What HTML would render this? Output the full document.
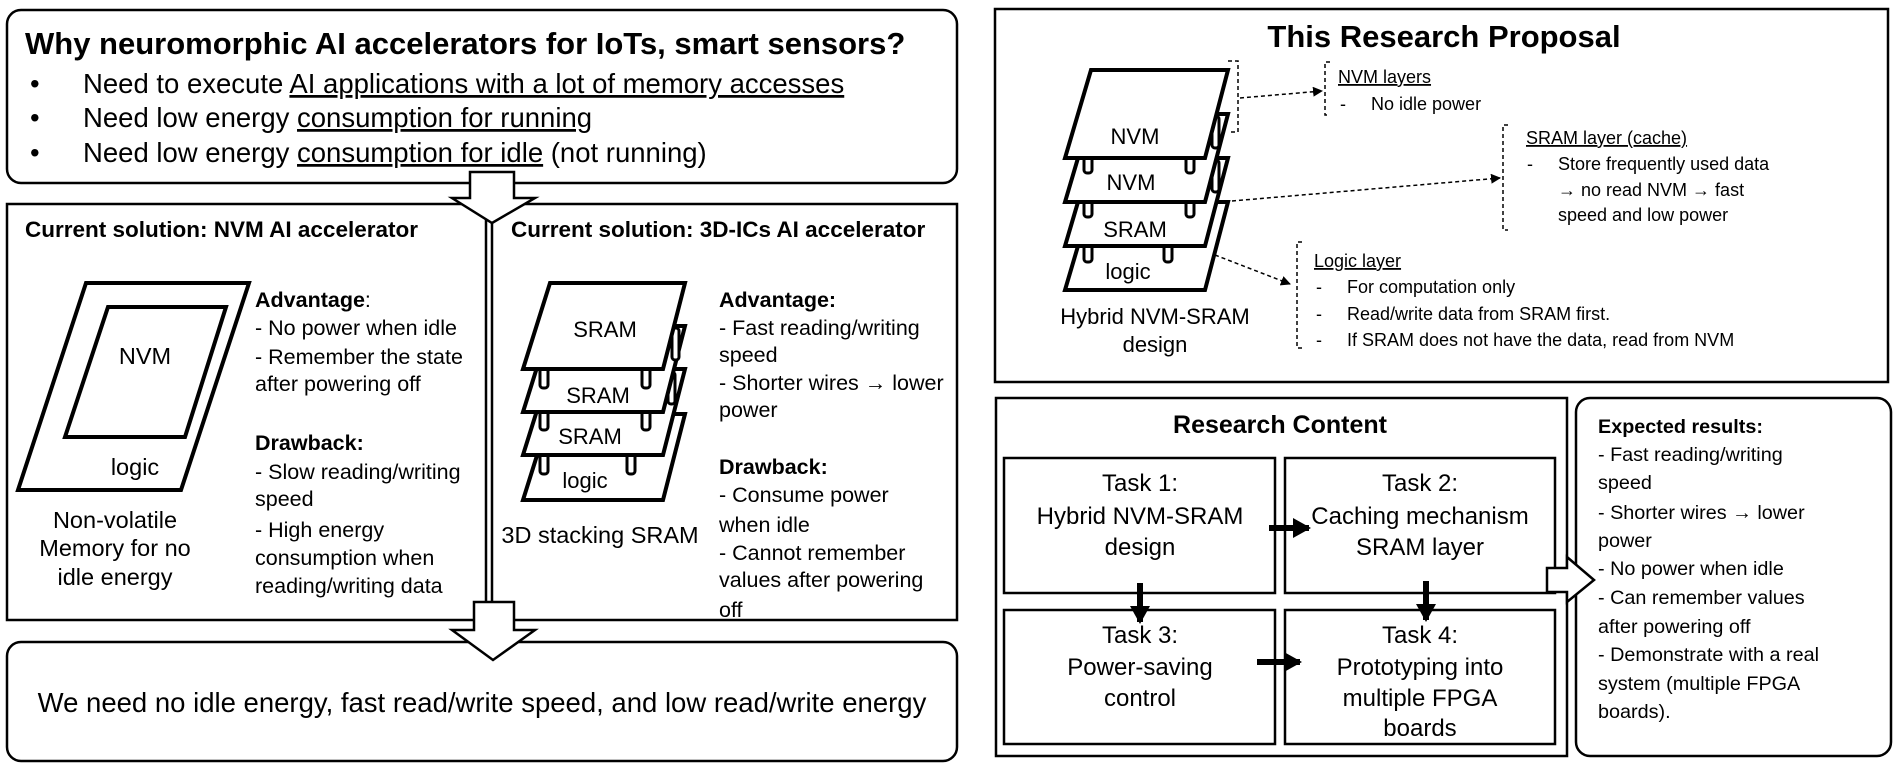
<!DOCTYPE html>
<html><head><meta charset="utf-8"><style>
html,body{margin:0;padding:0;background:#fff}
svg{display:block}
text{font-family:"Liberation Sans",sans-serif;fill:#000}
.b{font-weight:bold}
</style></head><body>
<svg width="1893" height="766" viewBox="0 0 1893 766" xmlns="http://www.w3.org/2000/svg">
<defs>
<marker id="ah" markerWidth="10" markerHeight="10" refX="9" refY="5" orient="auto" markerUnits="userSpaceOnUse"><path d="M0,0 L10,5 L0,10 z" fill="#000"/></marker>
<marker id="ah2" markerWidth="18" markerHeight="20" refX="16" refY="10" orient="auto" markerUnits="userSpaceOnUse"><path d="M0,0 L18,10 L0,20 z" fill="#000"/></marker>
</defs>
<g fill="none" stroke="#000" stroke-width="2.5">
<rect x="7" y="10" width="950" height="173" rx="14"/>
<rect x="7" y="204" width="950" height="416"/>
<rect x="7" y="642" width="950" height="119" rx="14"/>
<line x1="486" y1="215" x2="486" y2="602"/>
<line x1="492" y1="215" x2="492" y2="602"/>
<rect x="995" y="9" width="893" height="373"/>
<rect x="996" y="398" width="571" height="358"/>
<rect x="1576" y="398" width="315" height="358" rx="14"/>
<rect x="1004" y="458" width="271" height="135"/>
<rect x="1285" y="458" width="270" height="135"/>
<rect x="1004" y="610" width="271" height="134"/>
<rect x="1285" y="610" width="270" height="134"/>
</g>
<path d="M470,172 L514,172 L514,198 L535,198 L492,223 L452,198 L470,198 Z" fill="#fff" stroke="#000" stroke-width="2.5"/>
<path d="M474,602 L514,602 L514,630 L535,630 L493,660 L452,630 L474,630 Z" fill="#fff" stroke="#000" stroke-width="2.5"/>
<path d="M1547,568 L1567,568 L1567,557 L1594,580 L1567,602 L1567,592 L1547,592 Z" fill="#fff" stroke="#000" stroke-width="2.5"/>
<text x="25" y="54" class="b" font-size="31">Why neuromorphic AI accelerators for IoTs, smart sensors?</text>
<g font-size="27.5">
<text x="30" y="93">•</text><text x="83" y="93">Need to execute  <tspan text-decoration="underline">AI applications with a lot of memory accesses</tspan></text>
<text x="30" y="127">•</text><text x="83" y="127">Need low energy <tspan text-decoration="underline">consumption for running</tspan></text>
<text x="30" y="162">•</text><text x="83" y="162">Need low energy <tspan text-decoration="underline">consumption for idle</tspan> (not running)</text>
</g>
<text x="25" y="237" class="b" font-size="22.5">Current solution: NVM AI accelerator</text>
<text x="511" y="237" class="b" font-size="22.5">Current solution: 3D-ICs AI accelerator</text>
<path d="M86,283 L249,283 L181,490 L18,490 Z" fill="#fff" stroke="#000" stroke-width="4"/>
<path d="M108,307 L226,307 L185,437 L65,437 Z" fill="#fff" stroke="#000" stroke-width="4"/>
<g font-size="23.5" text-anchor="middle">
<text x="145" y="364">NVM</text>
<text x="135" y="475">logic</text>
<text x="115" y="528">Non-volatile</text>
<text x="115" y="556">Memory for no</text>
<text x="115" y="585">idle energy</text>
<text x="600" y="543">3D stacking SRAM</text>
</g>
<g font-size="21.5">
<text x="255" y="307" class="b">Advantage<tspan font-weight="normal">:</tspan></text>
<text x="255" y="335">- No power when idle</text>
<text x="255" y="364">- Remember the state</text>
<text x="255" y="391">after powering off</text>
<text x="255" y="450" class="b">Drawback:</text>
<text x="255" y="479">-  Slow reading/writing</text>
<text x="255" y="506">speed</text>
<text x="255" y="537">- High energy</text>
<text x="255" y="565">consumption when</text>
<text x="255" y="593">reading/writing data</text>
<text x="719" y="307" class="b">Advantage:</text>
<text x="719" y="335">- Fast reading/writing</text>
<text x="719" y="362">speed</text>
<text x="719" y="390">- Shorter wires → lower</text>
<text x="719" y="417">power</text>
<text x="719" y="474" class="b">Drawback:</text>
<text x="719" y="502">- Consume power</text>
<text x="719" y="532">when idle</text>
<text x="719" y="560">- Cannot remember</text>
<text x="719" y="587">values after powering</text>
<text x="719" y="617">off</text>
</g>
<g stroke="#000" stroke-width="4" fill="#fff">
<path d="M550,414 L685,414 L663,500 L523,500 Z"/>
<rect x="540" y="440" width="8" height="34" rx="3" stroke-width="3"/><rect x="627" y="440" width="8" height="34" rx="3" stroke-width="3"/>
<path d="M550,369 L685,369 L663,455 L523,455 Z"/>
<rect x="540" y="398" width="8" height="32" rx="3" stroke-width="3"/><rect x="642" y="398" width="8" height="32" rx="3" stroke-width="3"/><rect x="668" y="372" width="7" height="32" rx="3" stroke-width="3"/>
<path d="M550,326 L685,326 L663,412 L523,412 Z"/>
<rect x="540" y="356" width="8" height="32" rx="3" stroke-width="3"/><rect x="642" y="356" width="8" height="32" rx="3" stroke-width="3"/><rect x="672" y="328" width="7" height="32" rx="3" stroke-width="3"/>
<path d="M550,283 L685,283 L663,369 L523,369 Z"/>
</g>
<g font-size="22" text-anchor="middle">
<text x="605" y="337">SRAM</text>
<text x="598" y="403">SRAM</text>
<text x="590" y="444">SRAM</text>
<text x="585" y="488">logic</text>
</g>
<text x="482" y="712" font-size="27.5" text-anchor="middle">We need no idle energy, fast read/write speed, and low read/write energy</text>
<text x="1444" y="47" class="b" font-size="31" text-anchor="middle">This Research Proposal</text>
<g stroke="#000" stroke-width="4" fill="#fff">
<path d="M1091,202 L1228,202 L1205,290 L1065,290 Z"/>
<rect x="1084" y="228" width="8" height="34" rx="3" stroke-width="3"/><rect x="1164" y="228" width="8" height="34" rx="3" stroke-width="3"/>
<path d="M1091,158 L1228,158 L1205,246 L1065,246 Z"/>
<rect x="1084" y="185" width="8" height="32" rx="3" stroke-width="3"/><rect x="1186" y="185" width="8" height="32" rx="3" stroke-width="3"/><rect x="1212" y="160" width="7" height="32" rx="3" stroke-width="3"/>
<path d="M1091,114 L1228,114 L1205,202 L1065,202 Z"/>
<rect x="1084" y="141" width="8" height="32" rx="3" stroke-width="3"/><rect x="1186" y="141" width="8" height="32" rx="3" stroke-width="3"/><rect x="1212" y="116" width="7" height="32" rx="3" stroke-width="3"/>
<path d="M1091,70 L1228,70 L1205,158 L1065,158 Z"/>
</g>
<g font-size="22" text-anchor="middle">
<text x="1135" y="144">NVM</text>
<text x="1131" y="190">NVM</text>
<text x="1135" y="237">SRAM</text>
<text x="1128" y="279">logic</text>
<text x="1155" y="324">Hybrid NVM-SRAM</text>
<text x="1155" y="352">design</text>
</g>
<g fill="none" stroke="#000" stroke-width="1.5" stroke-dasharray="4,3">
<path d="M1228,61 L1238,61 L1238,132 L1228,132"/>
<path d="M1330,62 L1325,62 L1325,115 L1330,115"/>
<path d="M1508,125 L1503,125 L1503,230 L1508,230"/>
<path d="M1302,242 L1297,242 L1297,348 L1302,348"/>
<line x1="1240" y1="98" x2="1322" y2="91" marker-end="url(#ah)"/>
<line x1="1232" y1="201" x2="1500" y2="178" marker-end="url(#ah)"/>
<line x1="1215" y1="255" x2="1290" y2="284" marker-end="url(#ah)"/>
</g>
<g font-size="18">
<text x="1338" y="83" text-decoration="underline">NVM layers</text>
<text x="1340" y="110">-</text><text x="1371" y="110">No idle power</text>
<text x="1526" y="144" text-decoration="underline">SRAM layer (cache)</text>
<text x="1527" y="170">-</text><text x="1558" y="170">Store frequently used data</text>
<text x="1558" y="196">→ no read NVM → fast</text>
<text x="1558" y="221">speed and low power</text>
<text x="1314" y="267" text-decoration="underline">Logic layer</text>
<text x="1316" y="293">-</text><text x="1347" y="293">For computation only</text>
<text x="1316" y="320">-</text><text x="1347" y="320">Read/write data from SRAM first.</text>
<text x="1316" y="346">-</text><text x="1347" y="346">If SRAM does not have the data, read from NVM</text>
</g>
<text x="1280" y="433" class="b" font-size="25" text-anchor="middle">Research Content</text>
<g font-size="24" text-anchor="middle">
<text x="1140" y="491">Task 1:</text><text x="1140" y="524">Hybrid NVM-SRAM</text><text x="1140" y="555">design</text>
<text x="1420" y="491">Task 2:</text><text x="1420" y="524">Caching mechanism</text><text x="1420" y="555">SRAM layer</text>
<text x="1140" y="643">Task 3:</text><text x="1140" y="675">Power-saving</text><text x="1140" y="706">control</text>
<text x="1420" y="643">Task 4:</text><text x="1420" y="675">Prototyping into</text><text x="1420" y="706">multiple FPGA</text><text x="1420" y="736">boards</text>
</g>
<g stroke="#000" stroke-width="6">
<line x1="1269" y1="528" x2="1309" y2="528" marker-end="url(#ah2)"/>
<line x1="1257" y1="662" x2="1300" y2="662" marker-end="url(#ah2)"/>
<line x1="1140" y1="583" x2="1140" y2="622" marker-end="url(#ah2)"/>
<line x1="1426" y1="581" x2="1426" y2="620" marker-end="url(#ah2)"/>
</g>
<g font-size="19.8">
<text x="1598" y="433" class="b">Expected results:</text>
<text x="1598" y="461">- Fast reading/writing</text>
<text x="1598" y="489">speed</text>
<text x="1598" y="519">- Shorter wires → lower</text>
<text x="1598" y="547">power</text>
<text x="1598" y="575">- No power when idle</text>
<text x="1598" y="604">- Can remember values</text>
<text x="1598" y="633">after powering off</text>
<text x="1598" y="661">- Demonstrate with a real</text>
<text x="1598" y="690">system (multiple FPGA</text>
<text x="1598" y="718">boards).</text>
</g>
</svg>
</body></html>
